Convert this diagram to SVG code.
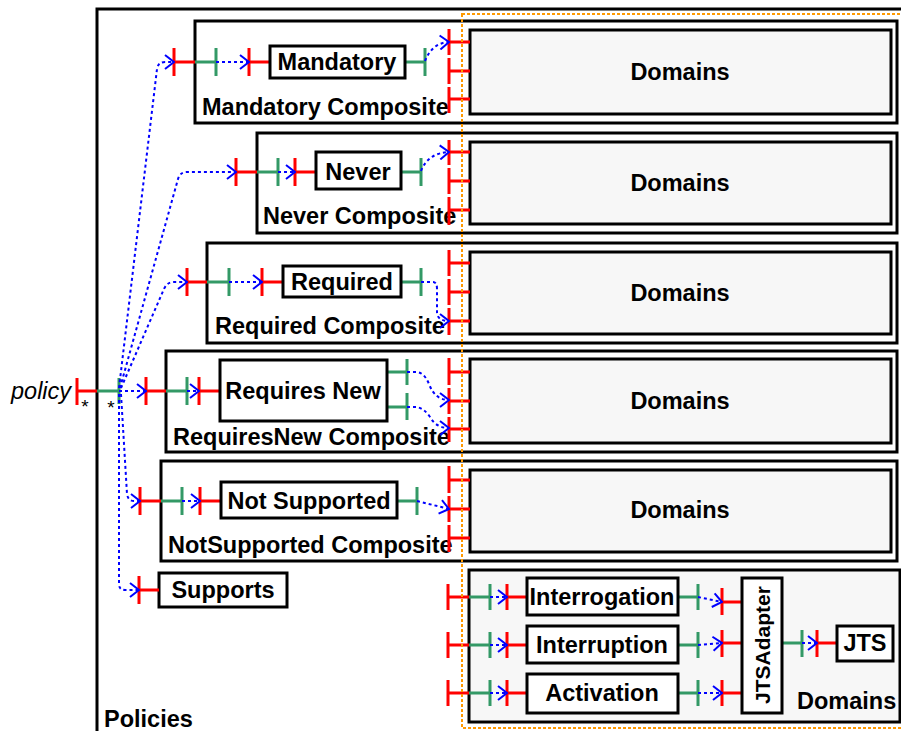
<svg xmlns="http://www.w3.org/2000/svg" width="901" height="731" viewBox="0 0 901 731">
<style>
text{font-family:"Liberation Sans",Arial,sans-serif;font-weight:bold;font-size:23.5px;fill:#000}
.box{fill:#fff;stroke:#000;stroke-width:3}
.dom{fill:#f7f7f7;stroke:#000;stroke-width:3}
.r{stroke:#ff0000;stroke-width:3;fill:none}
.g{stroke:#339966;stroke-width:3;fill:none}
.c{stroke:#0000ff;stroke-width:2;fill:none;stroke-dasharray:3 3;marker-end:url(#ah)}
.mid{text-anchor:middle}
.star{font-weight:normal;font-size:19px;text-anchor:middle}
</style>
<defs>
<marker id="ah" markerUnits="userSpaceOnUse" markerWidth="12" markerHeight="16" viewBox="0 0 12 16" refX="11" refY="8" orient="auto">
<path d="M2,1 L11,8 L2,15" fill="none" stroke="#0000ff" stroke-width="2"/>
</marker>
</defs>

<g id="policies">
<rect x="97" y="9" width="820" height="740" fill="none" stroke="#000" stroke-width="3"/>
<text x="104" y="727">Policies</text>
</g>

<g id="policy-port">
<text x="11" y="399" style="font-weight:normal;font-style:italic">policy</text>
<path class="r" d="M77,378 V405 M77,391 H97"/>
<path class="g" d="M97,391 H119 M119,378 V404"/>
<text class="star" x="85" y="413">*</text>
<text class="star" x="111" y="414">*</text>
</g>

<g id="mandatory-composite">
<rect class="box" x="195" y="21" width="702" height="102"/>
<text x="202" y="115">Mandatory Composite</text>
<rect class="dom" x="470" y="30" width="421" height="84"/>
<text class="mid" x="680" y="80">Domains</text>
<path class="r" d="M174,48 V76 M174,62 H195 M249,48 V76 M249,62 H270"/>
<path class="g" d="M195,62 H216 M216,48 V76 M405,62 H425 M425,48 V76"/>
<path class="r" d="M449,29 V55 M449,42 H470 M449,58 V84 M449,71 H470 M449,87 V113 M449,99 H470"/>
</g>
<g id="mandatory">
<rect class="box" x="270" y="46" width="135" height="32"/>
<text class="mid" x="337" y="70">Mandatory</text>
</g>

<g id="never-composite">
<rect class="box" x="257" y="133" width="640" height="100"/>
<text x="263" y="224">Never Composite</text>
<rect class="dom" x="470" y="142" width="421" height="82"/>
<text class="mid" x="680" y="191">Domains</text>
<path class="r" d="M236,158 V186 M236,172 H257 M295,158 V186 M295,172 H316"/>
<path class="g" d="M257,172 H278 M278,158 V186 M401,172 H421 M421,158 V186"/>
<path class="r" d="M449,140 V165 M449,152 H470 M449,168 V194 M449,181 H470 M449,197 V225 M449,210 H470"/>
</g>
<g id="never">
<rect class="box" x="316" y="152" width="85" height="37"/>
<text class="mid" x="358" y="180">Never</text>
</g>

<g id="required-composite">
<rect class="box" x="207" y="243" width="690" height="100"/>
<text x="215" y="334">Required Composite</text>
<rect class="dom" x="470" y="252" width="421" height="82"/>
<text class="mid" x="680" y="301">Domains</text>
<path class="r" d="M187,268 V296 M187,282 H207 M262,268 V296 M262,282 H283"/>
<path class="g" d="M207,282 H229 M229,268 V296 M401,282 H421 M421,268 V296"/>
<path class="r" d="M449,250 V276 M449,263 H470 M449,279 V305 M449,292 H470 M449,308 V335 M449,321 H470"/>
</g>
<g id="required">
<rect class="box" x="283" y="266" width="118" height="31"/>
<text class="mid" x="342" y="290">Required</text>
</g>

<g id="requiresnew-composite">
<rect class="box" x="166" y="351" width="731" height="101"/>
<text x="173" y="445">RequiresNew Composite</text>
<rect class="dom" x="470" y="359" width="421" height="84"/>
<text class="mid" x="680" y="409">Domains</text>
<path class="r" d="M146,377 V405 M146,391 H166 M199,377 V405 M199,391 H220"/>
<path class="g" d="M166,391 H187 M187,377 V405 M387,372 H407 M407,359 V385 M387,407 H407 M407,393 V420"/>
<path class="r" d="M449,358 V385 M449,372 H470 M449,388 V414 M449,401 H470 M449,417 V442 M449,429 H470"/>
</g>
<g id="requires-new">
<rect class="box" x="220" y="360" width="167" height="61"/>
<text class="mid" x="303" y="399">Requires New</text>
</g>

<g id="notsupported-composite">
<rect class="box" x="161" y="461" width="736" height="100"/>
<text x="168" y="553">NotSupported Composite</text>
<rect class="dom" x="470" y="470" width="421" height="82"/>
<text class="mid" x="680" y="518">Domains</text>
<path class="r" d="M140,487 V515 M140,501 H161 M200,487 V515 M200,501 H221"/>
<path class="g" d="M161,501 H182 M182,487 V515 M397,501 H417 M417,487 V515"/>
<path class="r" d="M449,466 V493 M449,480 H470 M449,496 V522 M449,509 H470 M449,525 V552 M449,538 H470"/>
</g>
<g id="not-supported">
<rect class="box" x="221" y="482" width="176" height="36"/>
<text class="mid" x="309" y="509">Not Supported</text>
</g>

<g id="supports">
<rect class="box" x="159" y="573" width="128" height="34"/>
<text class="mid" x="223" y="598">Supports</text>
<path class="r" d="M139,576 V604 M139,590 H159"/>
</g>

<g id="domains">
<rect class="dom" x="469" y="570" width="431" height="152"/>
<text x="797" y="709">Domains</text>
<path class="r" d="M448,584 V610 M448,597 H469 M507,584 V610 M507,597 H527"/>
<path class="g" d="M469,597 H490 M490,584 V610"/>
<path class="r" d="M448,632 V658 M448,645 H469 M507,632 V658 M507,645 H527"/>
<path class="g" d="M469,645 H490 M490,632 V658"/>
<path class="r" d="M448,680 V706 M448,693 H469 M507,680 V706 M507,693 H527"/>
<path class="g" d="M469,693 H490 M490,680 V706"/>
<path class="g" d="M678,597 H698 M698,584 V610 M678,645 H698 M698,632 V658 M678,693 H698 M698,680 V706"/>
<path class="r" d="M722,588 V615 M722,602 H742 M722,630 V657 M722,643 H742 M722,680 V706 M722,693 H742"/>
<path class="g" d="M782,643 H802 M802,630 V657"/>
<path class="r" d="M817,630 V657 M817,643 H837"/>
</g>
<g id="interrogation">
<rect class="box" x="527" y="578" width="151" height="37"/>
<text class="mid" x="602" y="605">Interrogation</text>
</g>
<g id="interruption">
<rect class="box" x="527" y="626" width="151" height="37"/>
<text class="mid" x="602" y="653">Interruption</text>
</g>
<g id="activation">
<rect class="box" x="527" y="674" width="151" height="39"/>
<text class="mid" x="602" y="701">Activation</text>
</g>
<g id="jtsadapter">
<rect class="box" x="742" y="578" width="40" height="135"/>
<text class="mid" transform="translate(769.5,645) rotate(-90)" style="font-size:21px">JTSAdapter</text>
</g>
<g id="jts">
<rect class="box" x="837" y="626" width="56" height="35"/>
<text class="mid" x="865" y="651">JTS</text>
</g>

<g id="connectors">
<path class="c" d="M119,388 L157,69 Q158,62 165,62 L174,62"/>
<path class="c" d="M120,388 L178,179 Q180,172 187,172 L236,172"/>
<path class="c" d="M121,388 L164,289 Q167,282 174,282 L187,282"/>
<path class="c" d="M119,391 L146,391"/>
<path class="c" d="M121,394 L127,494 Q128,501 134,501 L140,501"/>
<path class="c" d="M119,394 L119,584 Q119,590 125,590 L139,590"/>
<path class="c" d="M216,62 L249,62"/>
<path class="c" d="M278,172 L295,172"/>
<path class="c" d="M229,282 L262,282"/>
<path class="c" d="M187,391 L199,391"/>
<path class="c" d="M182,501 L200,501"/>
<path class="c" d="M425,61 Q432,43 449,42"/>
<path class="c" d="M421,171 Q428,153 449,152"/>
<path class="c" d="M421,282 L433,282 Q437,282 437,289 L437,313 Q438,321 449,321"/>
<path class="c" d="M407,372 L416,372 Q424,372 429,384 Q435,400 449,400"/>
<path class="c" d="M407,407 L416,407 Q424,408 430,417 Q436,428 449,428"/>
<path class="c" d="M417,501 L449,509"/>
<path class="c" d="M490,597 L507,597"/>
<path class="c" d="M490,645 L507,645"/>
<path class="c" d="M490,693 L507,693"/>
<path class="c" d="M698,597 L722,602"/>
<path class="c" d="M698,645 L722,643"/>
<path class="c" d="M698,693 L722,693"/>
<path class="c" d="M802,643 L817,643"/>
</g>

<rect x="462" y="14" width="460" height="714" fill="none" stroke="#ff9900" stroke-width="2" stroke-dasharray="3 2"/>
</svg>
